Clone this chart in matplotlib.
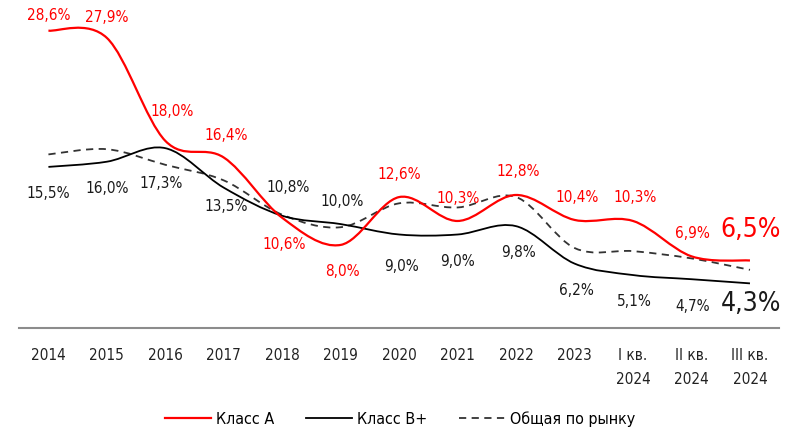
import numpy as np
import matplotlib
matplotlib.use('Agg')
import matplotlib.pyplot as plt
from matplotlib.path import Path
from matplotlib.patches import PathPatch
from matplotlib.lines import Line2D

plt.rcParams['font.family'] = ['DejaVu Sans']
plt.rcParams['font.stretch'] = 'condensed'

# Data
periods = ['2014', '2015', '2016', '2017', '2018', '2019', '2020', '2021',
           '2022', '2023', 'I кв.\n2024', 'II кв.\n2024', 'III кв.\n2024']
class_a = [28.6, 27.9, 18.0, 16.4, 10.6, 8.0, 12.6, 10.3, 12.8, 10.4, 10.3, 6.9, 6.5]
class_b = [15.5, 16.0, 17.3, 13.5, 10.8, 10.0, 9.0, 9.0, 9.8, 6.2, 5.1, 4.7, 4.3]
market = [16.7, 17.2, 15.7, 14.2, 10.9, 9.7, 12.0, 11.6, 12.6, 7.7, 7.4, 6.7, 5.6]

# label offsets in pixels (dx, dy)
off_a = [(0, 15), (0, 20), (7, 29), (2, 22), (2, -27), (2, -27), (0, 23),
         (0, 22), (2, 23), (3, 22), (2, 23), (1, 23), (1, 30)]
off_b = [(0, -27), (0, -27), (-4, -35), (2, -19), (6, 28), (1, 23), (2, -32),
         (0, -27), (2, -26), (2, -27), (1, -26), (1, -27), (1, -21)]

RED = '#ff0000'


def smooth_path(xs, ys):
    # excel-like smoothed line (catmull-rom -> bezier)
    pts = np.column_stack([xs, ys]).astype(float)
    n = len(pts)
    verts = [pts[0]]
    codes = [Path.MOVETO]
    for i in range(n - 1):
        p0 = pts[max(i - 1, 0)]
        p1 = pts[i]
        p2 = pts[i + 1]
        p3 = pts[min(i + 2, n - 1)]
        c1 = p1 + (p2 - p0) / 6.0
        c2 = p2 - (p3 - p1) / 6.0
        verts += [c1, c2, p2]
        codes += [Path.CURVE4] * 3
    return Path(verts, codes)


fig = plt.figure(figsize=(8, 4.47), dpi=100)
ax = fig.add_axes([0.024, 0.266, 0.95, 0.698])

x = np.arange(len(periods))
ax.add_patch(PathPatch(smooth_path(x, market), fill=False, edgecolor='#333333',
                       lw=1.3, linestyle=(0, (4, 3)), zorder=2))
ax.add_patch(PathPatch(smooth_path(x, class_b), fill=False, edgecolor='black',
                       lw=1.3, zorder=3))
ax.add_patch(PathPatch(smooth_path(x, class_a), fill=False, edgecolor=RED,
                       lw=1.6, zorder=4))

last = len(periods) - 1
for i in range(len(periods)):
    fs = 19 if i == last else 11
    ax.annotate(f'{class_a[i]:.1f}%'.replace('.', ','), (x[i], class_a[i]),
                xytext=off_a[i], textcoords='offset pixels', ha='center',
                va='center', color=RED, fontsize=fs)
    ax.annotate(f'{class_b[i]:.1f}%'.replace('.', ','), (x[i], class_b[i]),
                xytext=off_b[i], textcoords='offset pixels', ha='center',
                va='center', color='#1a1a1a', fontsize=fs)

ax.set_xlim(-0.5, len(periods) - 0.5)
ax.set_ylim(0, 30)
ax.set_xticks(x)
ax.set_xticklabels(periods, fontsize=11, color='#222222', linespacing=1.75, va='top')
ax.tick_params(axis='x', length=0, pad=14)
ax.set_yticks([])
for s in ['top', 'left', 'right']:
    ax.spines[s].set_visible(False)
ax.spines['bottom'].set_color('#8c8c8c')
ax.spines['bottom'].set_linewidth(1.5)

handles = [Line2D([], [], color=RED, lw=1.6),
           Line2D([], [], color='black', lw=1.3),
           Line2D([], [], color='#333333', lw=1.3, linestyle=(0, (4, 3)))]
fig.legend(handles, ['Класс А', 'Класс B+', 'Общая по рынку'], loc='center',
           bbox_to_anchor=(0.5, 0.063), ncol=3, frameon=False, fontsize=11.5,
           handlelength=2.9, handletextpad=0.3, columnspacing=2.0)

fig.savefig('out.png', dpi=100)
